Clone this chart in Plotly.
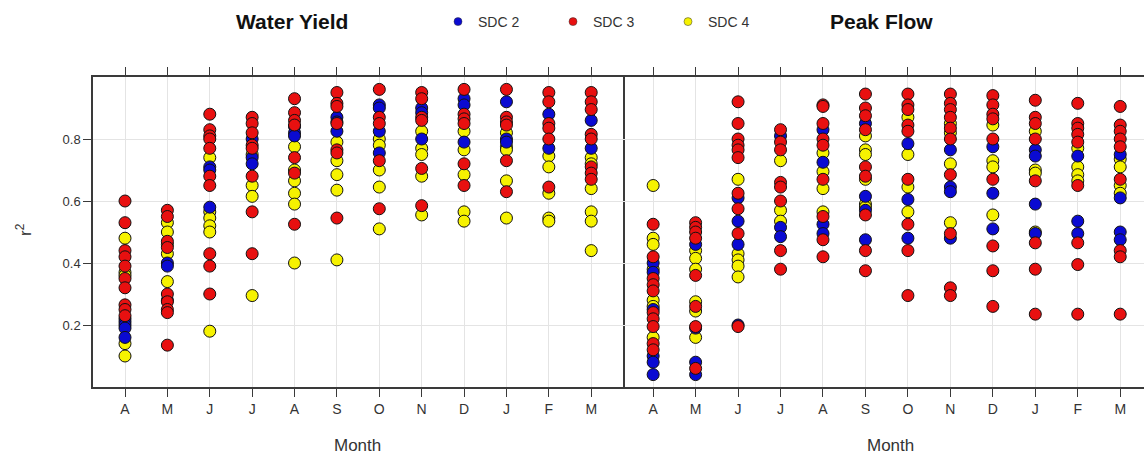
import plotly.graph_objects as go

months = ["A", "M", "J", "J", "A", "S", "O", "N", "D", "J", "F", "M"]
series_names = ["SDC 2", "SDC 3", "SDC 4"]
panel_titles = ["Water Yield", "Peak Flow"]

wy_sdc2 = [
    [0.22, 0.21, 0.20, 0.19, 0.16],
    [0.40, 0.39, 0.28],
    [0.71, 0.70, 0.58],
    [0.80, 0.74, 0.72],
    [0.84, 0.82, 0.81],
    [0.87, 0.855, 0.825],
    [0.91, 0.90, 0.825, 0.755],
    [0.90, 0.885, 0.80],
    [0.93, 0.91, 0.79],
    [0.92, 0.80, 0.79],
    [0.88, 0.77],
    [0.86, 0.77],
]
wy_sdc3 = [
    [0.60, 0.53, 0.44, 0.42, 0.39, 0.35, 0.32, 0.265, 0.25, 0.23],
    [0.57, 0.55, 0.47, 0.45, 0.30, 0.275, 0.25, 0.24, 0.135],
    [0.88, 0.83, 0.81, 0.80, 0.77, 0.68, 0.65, 0.43, 0.39, 0.30],
    [0.87, 0.85, 0.82, 0.78, 0.77, 0.68, 0.565, 0.43],
    [0.93, 0.885, 0.86, 0.845, 0.74, 0.69, 0.525],
    [0.95, 0.915, 0.905, 0.85, 0.765, 0.755, 0.545],
    [0.96, 0.87, 0.85, 0.73, 0.575],
    [0.95, 0.93, 0.87, 0.86, 0.705, 0.585],
    [0.96, 0.88, 0.865, 0.85, 0.72, 0.65],
    [0.96, 0.87, 0.855, 0.845, 0.73, 0.63],
    [0.95, 0.92, 0.85, 0.835, 0.80, 0.645],
    [0.95, 0.92, 0.895, 0.815, 0.80, 0.71, 0.69, 0.67],
]
wy_sdc4 = [
    [0.48, 0.37, 0.36, 0.14, 0.10],
    [0.53, 0.50, 0.46, 0.43, 0.34],
    [0.74, 0.565, 0.545, 0.52, 0.50, 0.18],
    [0.75, 0.65, 0.615, 0.295],
    [0.775, 0.70, 0.665, 0.625, 0.59, 0.40],
    [0.79, 0.73, 0.685, 0.635, 0.41],
    [0.80, 0.78, 0.70, 0.645, 0.51],
    [0.825, 0.77, 0.75, 0.68, 0.555],
    [0.825, 0.765, 0.685, 0.565, 0.535],
    [0.82, 0.775, 0.765, 0.665, 0.545],
    [0.745, 0.71, 0.625, 0.545, 0.535],
    [0.74, 0.72, 0.64, 0.565, 0.535, 0.44],
]
pf_sdc2 = [
    [0.40, 0.37, 0.25, 0.10, 0.08, 0.04],
    [0.46, 0.19, 0.08, 0.04],
    [0.61, 0.535, 0.46, 0.20],
    [0.81, 0.515, 0.485],
    [0.83, 0.725, 0.525, 0.495],
    [0.85, 0.615, 0.57, 0.475],
    [0.785, 0.605, 0.48],
    [0.765, 0.645, 0.63, 0.48],
    [0.775, 0.625, 0.51],
    [0.765, 0.745, 0.59, 0.495],
    [0.745, 0.535, 0.495],
    [0.75, 0.61, 0.50, 0.475],
]
pf_sdc3 = [
    [0.525, 0.42, 0.35, 0.33, 0.31, 0.24, 0.22, 0.195, 0.14, 0.12],
    [0.53, 0.515, 0.50, 0.48, 0.36, 0.26, 0.195, 0.06],
    [0.92, 0.85, 0.80, 0.78, 0.765, 0.74, 0.625, 0.575, 0.495, 0.195],
    [0.83, 0.79, 0.765, 0.66, 0.645, 0.60, 0.44, 0.38],
    [0.91, 0.905, 0.85, 0.80, 0.78, 0.67, 0.55, 0.475, 0.42],
    [0.945, 0.90, 0.875, 0.83, 0.71, 0.68, 0.555, 0.44, 0.375],
    [0.945, 0.91, 0.895, 0.845, 0.825, 0.67, 0.525, 0.44, 0.295],
    [0.945, 0.915, 0.895, 0.87, 0.835, 0.80, 0.685, 0.495, 0.32, 0.295],
    [0.94, 0.91, 0.88, 0.865, 0.80, 0.67, 0.455, 0.375, 0.26],
    [0.925, 0.87, 0.85, 0.80, 0.665, 0.465, 0.38, 0.235],
    [0.915, 0.85, 0.835, 0.815, 0.79, 0.65, 0.465, 0.395, 0.235],
    [0.905, 0.845, 0.825, 0.80, 0.775, 0.67, 0.44, 0.42, 0.235],
]
pf_sdc4 = [
    [0.65, 0.48, 0.46, 0.38, 0.28, 0.26, 0.16],
    [0.44, 0.415, 0.38, 0.275, 0.245, 0.16],
    [0.67, 0.43, 0.41, 0.39, 0.355],
    [0.73, 0.57, 0.535],
    [0.755, 0.695, 0.64, 0.565],
    [0.81, 0.765, 0.75, 0.67, 0.59, 0.58],
    [0.87, 0.75, 0.645, 0.565],
    [0.85, 0.82, 0.72, 0.53],
    [0.845, 0.73, 0.71, 0.555],
    [0.825, 0.70, 0.69, 0.50],
    [0.77, 0.71, 0.685, 0.665],
    [0.735, 0.71, 0.65, 0.625],
]

colors = ["#0a0ad2", "#e81010", "#f6f200"]
draw_order = [2, 0, 1]  # yellow first, then blue, red on top
FONT = "Liberation Sans, Arial, sans-serif"
TXT = "#333333"
FRAME = "#3a3a3a"
GRID = "#e4e4e4"

panels = [
    ("x", "y", [wy_sdc2, wy_sdc3, wy_sdc4]),
    ("x2", "y2", [pf_sdc2, pf_sdc3, pf_sdc4]),
]

fig = go.Figure()
for xa, ya, groups in panels:
    for k in draw_order:
        grp = groups[k]
        xs, ys = [], []
        for i, vals in enumerate(grp):
            for v in vals:
                xs.append(i + 1)
                ys.append(v)
        fig.add_trace(go.Scatter(
            x=xs, y=ys, mode="markers", xaxis=xa, yaxis=ya, showlegend=False,
            marker=dict(size=12, color=colors[k], line=dict(color="#111111", width=1)),
            name=series_names[k],
        ))

for name, col in zip(series_names, colors):
    fig.add_trace(go.Scatter(
        x=[None], y=[None], mode="markers", name=name, showlegend=True,
        marker=dict(size=8, color=col, line=dict(color="#333333", width=0.5)),
    ))

W, H = 1144, 460
left0, split, right1 = 93, 623, 1144
top, bottom = 77, 387
ydom = [(H - bottom) / H, (H - top) / H]

xcommon = dict(
    tickmode="array", tickvals=list(range(1, 13)), ticktext=months,
    showgrid=True, gridcolor=GRID, gridwidth=1, zeroline=False,
    showline=True, linecolor=FRAME, linewidth=1.5, mirror="ticks",
    ticks="outside", ticklen=8, tickcolor=FRAME, tickwidth=1,
    tickfont=dict(family=FONT, size=14, color=TXT),
)
ycommon = dict(
    range=[0, 1.0], tickvals=[0.2, 0.4, 0.6, 0.8], ticktext=["0.2", "0.4", "0.6", "0.8"],
    showgrid=True, gridcolor=GRID, gridwidth=1, zeroline=False,
    domain=ydom, tickfont=dict(family=FONT, size=13, color=TXT),
)

fig.update_layout(
    width=W, height=H, margin=dict(l=0, r=0, t=0, b=0),
    paper_bgcolor="white", plot_bgcolor="white",
    xaxis=dict(xcommon, domain=[left0 / W, split / W], range=[0.245, 12.75], anchor="y"),
    xaxis2=dict(xcommon, domain=[split / W, right1 / W], range=[0.29, 12.56], anchor="y2"),
    yaxis=dict(ycommon, anchor="x", ticks="outside", ticklen=8, tickcolor=FRAME,
               showline=True, linecolor=FRAME, linewidth=1.5, mirror=True),
    yaxis2=dict(ycommon, anchor="x2", ticks="", showticklabels=False, showline=False),
    legend=dict(
        orientation="h", x=438 / W, xanchor="left", y=(H - 22) / H, yanchor="middle",
        font=dict(family=FONT, size=14, color=TXT), bgcolor="rgba(0,0,0,0)",
        entrywidth=70, entrywidthmode="pixels", itemwidth=30,
    ),
    annotations=[
        dict(text="<b>" + panel_titles[0] + "</b>", x=292 / W, y=(H - 22) / H, xref="paper", yref="paper",
             showarrow=False, font=dict(family=FONT, size=21, color="#111111"), xanchor="center", yanchor="middle"),
        dict(text="<b>" + panel_titles[1] + "</b>", x=881 / W, y=(H - 22) / H, xref="paper", yref="paper",
             showarrow=False, font=dict(family=FONT, size=21, color="#111111"), xanchor="center", yanchor="middle"),
        dict(text="Month", x=357 / W, y=(H - 445) / H, xref="paper", yref="paper",
             showarrow=False, font=dict(family=FONT, size=17, color=TXT), xanchor="center", yanchor="middle"),
        dict(text="Month", x=890 / W, y=(H - 445) / H, xref="paper", yref="paper",
             showarrow=False, font=dict(family=FONT, size=17, color=TXT), xanchor="center", yanchor="middle"),
        dict(text="r<sup>2</sup>", x=24 / W, y=(H - 230) / H, xref="paper", yref="paper", textangle=-90,
             showarrow=False, font=dict(family=FONT, size=17, color=TXT), xanchor="center", yanchor="middle"),
    ],
)

fig.write_html("out.html")
